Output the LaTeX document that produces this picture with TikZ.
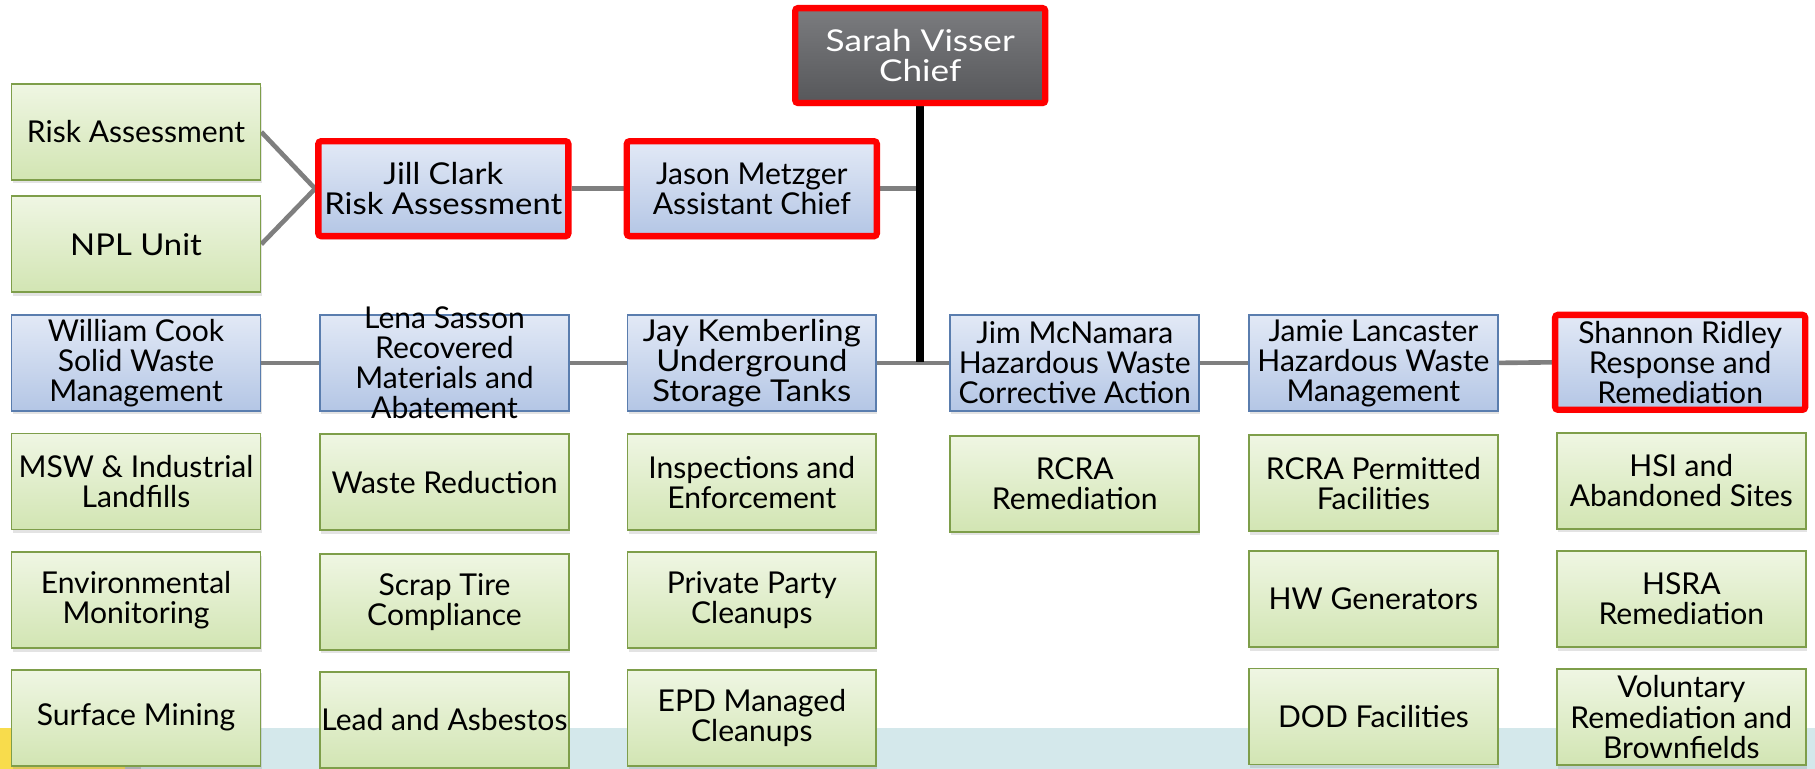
\documentclass[tikz,border=0pt]{standalone}
\usepackage{fontspec}
\setmainfont{Lato}
\newfontfamily\fwide[FakeStretch=1.09]{Lato}
\newfontfamily\fchief[FakeStretch=1.17]{Lato}
\usetikzlibrary{shadows}
\pgfdeclarelayer{bg}\pgfdeclarelayer{lines}\pgfsetlayers{bg,lines,main}
\definecolor{grnT}{HTML}{EFF6E3}
\definecolor{grnM}{HTML}{D2E5B3}
\definecolor{grnB}{HTML}{7E9E4A}
\definecolor{bluT}{HTML}{E2E9F6}
\definecolor{bluM}{HTML}{B4C6E5}
\definecolor{bluB}{HTML}{5A7DAE}
\definecolor{chiefT}{HTML}{7B7C7F}
\definecolor{chiefB}{HTML}{56575A}
\definecolor{redB}{HTML}{FF0000}
\definecolor{connG}{HTML}{7F7F7F}
\definecolor{bandY}{HTML}{F8DC4C}
\definecolor{bandG}{HTML}{B9BDBF}
\definecolor{bandB}{HTML}{D4E8EB}
\tikzset{
  txt/.style={font=\fontsize{26}{26}\selectfont, align=center, text=black},
  box/.style={txt, rectangle, minimum width=215pt, minimum height=83pt, inner sep=0pt,
    drop shadow={opacity=0.22, shadow xshift=1pt, shadow yshift=-3pt}},
  grn/.style={box, draw=grnB, line width=1.5pt, top color=grnT, bottom color=grnM},
  blu/.style={box, draw=bluB, line width=1.5pt, top color=bluT, bottom color=bluM},
  redbox/.style={draw=redB, line width=5.5pt, rounded corners=2.5pt, minimum width=216pt, minimum height=82pt},
  conn/.style={draw=connG, line width=4pt},
  trunk/.style={draw=black, line width=6.5pt},
}
\begin{document}
\begin{tikzpicture}[x=1pt,y=-1pt]
\useasboundingbox (0,0) rectangle (1568,664);
\begin{pgfonlayer}{bg}
  \fill[bandB] (122,629) rectangle (1568,664);
  \fill[bandG] (108,629) rectangle (122,664);
  \fill[bandY] (0,629) rectangle (108,664);
\end{pgfonlayer}
% chief
\node[box, redbox, top color=chiefT, bottom color=chiefB, text=white] (chief) at (795,48) {\fchief Sarah Visser\\\fchief Chief};
% assistants row
\node[grn] (ra) at (117.5,114) {Risk Assessment};
\node[grn] (npl) at (117.5,211) {\fwide NPL Unit};
\node[blu, redbox] (jill) at (383,163) {\fwide Jill Clark\\\fwide Risk Assessment};
\node[blu, redbox] (jason) at (649.5,163) {Jason Metzger\\Assistant Chief};
% managers row
\node[blu] (cook) at (117.5,313.5) {William Cook\\Solid Waste\\Management};
\node[blu] (lena) at (384,313.5) {};
\node[txt] (lenatxt) at (lena.center) {Lena Sasson\\Recovered\\Materials and\\Abatement};
\node[blu] (jay) at (649.5,313.5) {\fwide Jay Kemberling\\\fwide Underground\\\fwide Storage Tanks};
\node[blu] (jim) at (928.5,313.5) {Jim McNamara\\Hazardous Waste\\Corrective Action};
\node[blu] (jamie) at (1186.5,313.5) {Jamie Lancaster\\Hazardous Waste\\Management};
\node[blu, redbox] (shannon) at (1451.5,313) {Shannon Ridley\\Response and\\Remediation};
% row 3
\node[grn] (msw) at (117.5,416) {MSW \& Industrial\\Landfills};
\node[grn] (wred) at (384,416.5) {Waste Reduction};
\node[grn] (insp) at (649.5,416.5) {Inspections and\\Enforcement};
\node[grn] (rcrar) at (928.5,418) {RCRA\\Remediation};
\node[grn] (rcrap) at (1186.5,417.5) {RCRA Permitted\\Facilities};
\node[grn] (hsi) at (1452.5,415.5) {HSI and\\Abandoned Sites};
% row 4
\node[grn] (envm) at (117.5,518.5) {Environmental\\Monitoring};
\node[grn] (scrap) at (384,520) {Scrap Tire\\Compliance};
\node[grn] (ppc) at (649.5,518.5) {Private Party\\Cleanups};
\node[grn] (hwg) at (1186.5,517.5) {HW Generators};
\node[grn] (hsra) at (1452.5,517.5) {HSRA\\Remediation};
% row 5
\node[grn] (surf) at (117.5,620) {Surface Mining};
\node[grn] (lead) at (384,622) {};
\node[txt] (leadtxt) at (lead.center) {Lead and Asbestos};
\node[grn] (epd) at (649.5,620) {EPD Managed\\Cleanups};
\node[grn] (dod) at (1186.5,619) {DOD Facilities};
\node[grn] (vrb) at (1452.5,619.5) {Voluntary\\Remediation and\\Brownfields};
% connectors
\begin{pgfonlayer}{lines}
  \coordinate (junc) at (chief.south |- jay.east);
  \coordinate (jjunc) at (chief.south |- jason.east);
  \draw[conn] (ra.east) -- (jill.west);
  \draw[conn] (npl.east) -- (jill.west);
  \draw[conn] (jill.east) -- (jason.west);
  \draw[conn] (jason.east) -- (jjunc);
  \draw[conn] (cook.east) -- (lena.west);
  \draw[conn] (lena.east) -- (jay.west);
  \draw[conn] (jay.east) -- (jim.west);
  \draw[conn] (jim.east) -- (jamie.west);
  \draw[conn] (jamie.east) -- (shannon.west);
  \draw[trunk] (chief.south) -- ([yshift=1pt]junc);
\end{pgfonlayer}
\end{tikzpicture}
\end{document}
